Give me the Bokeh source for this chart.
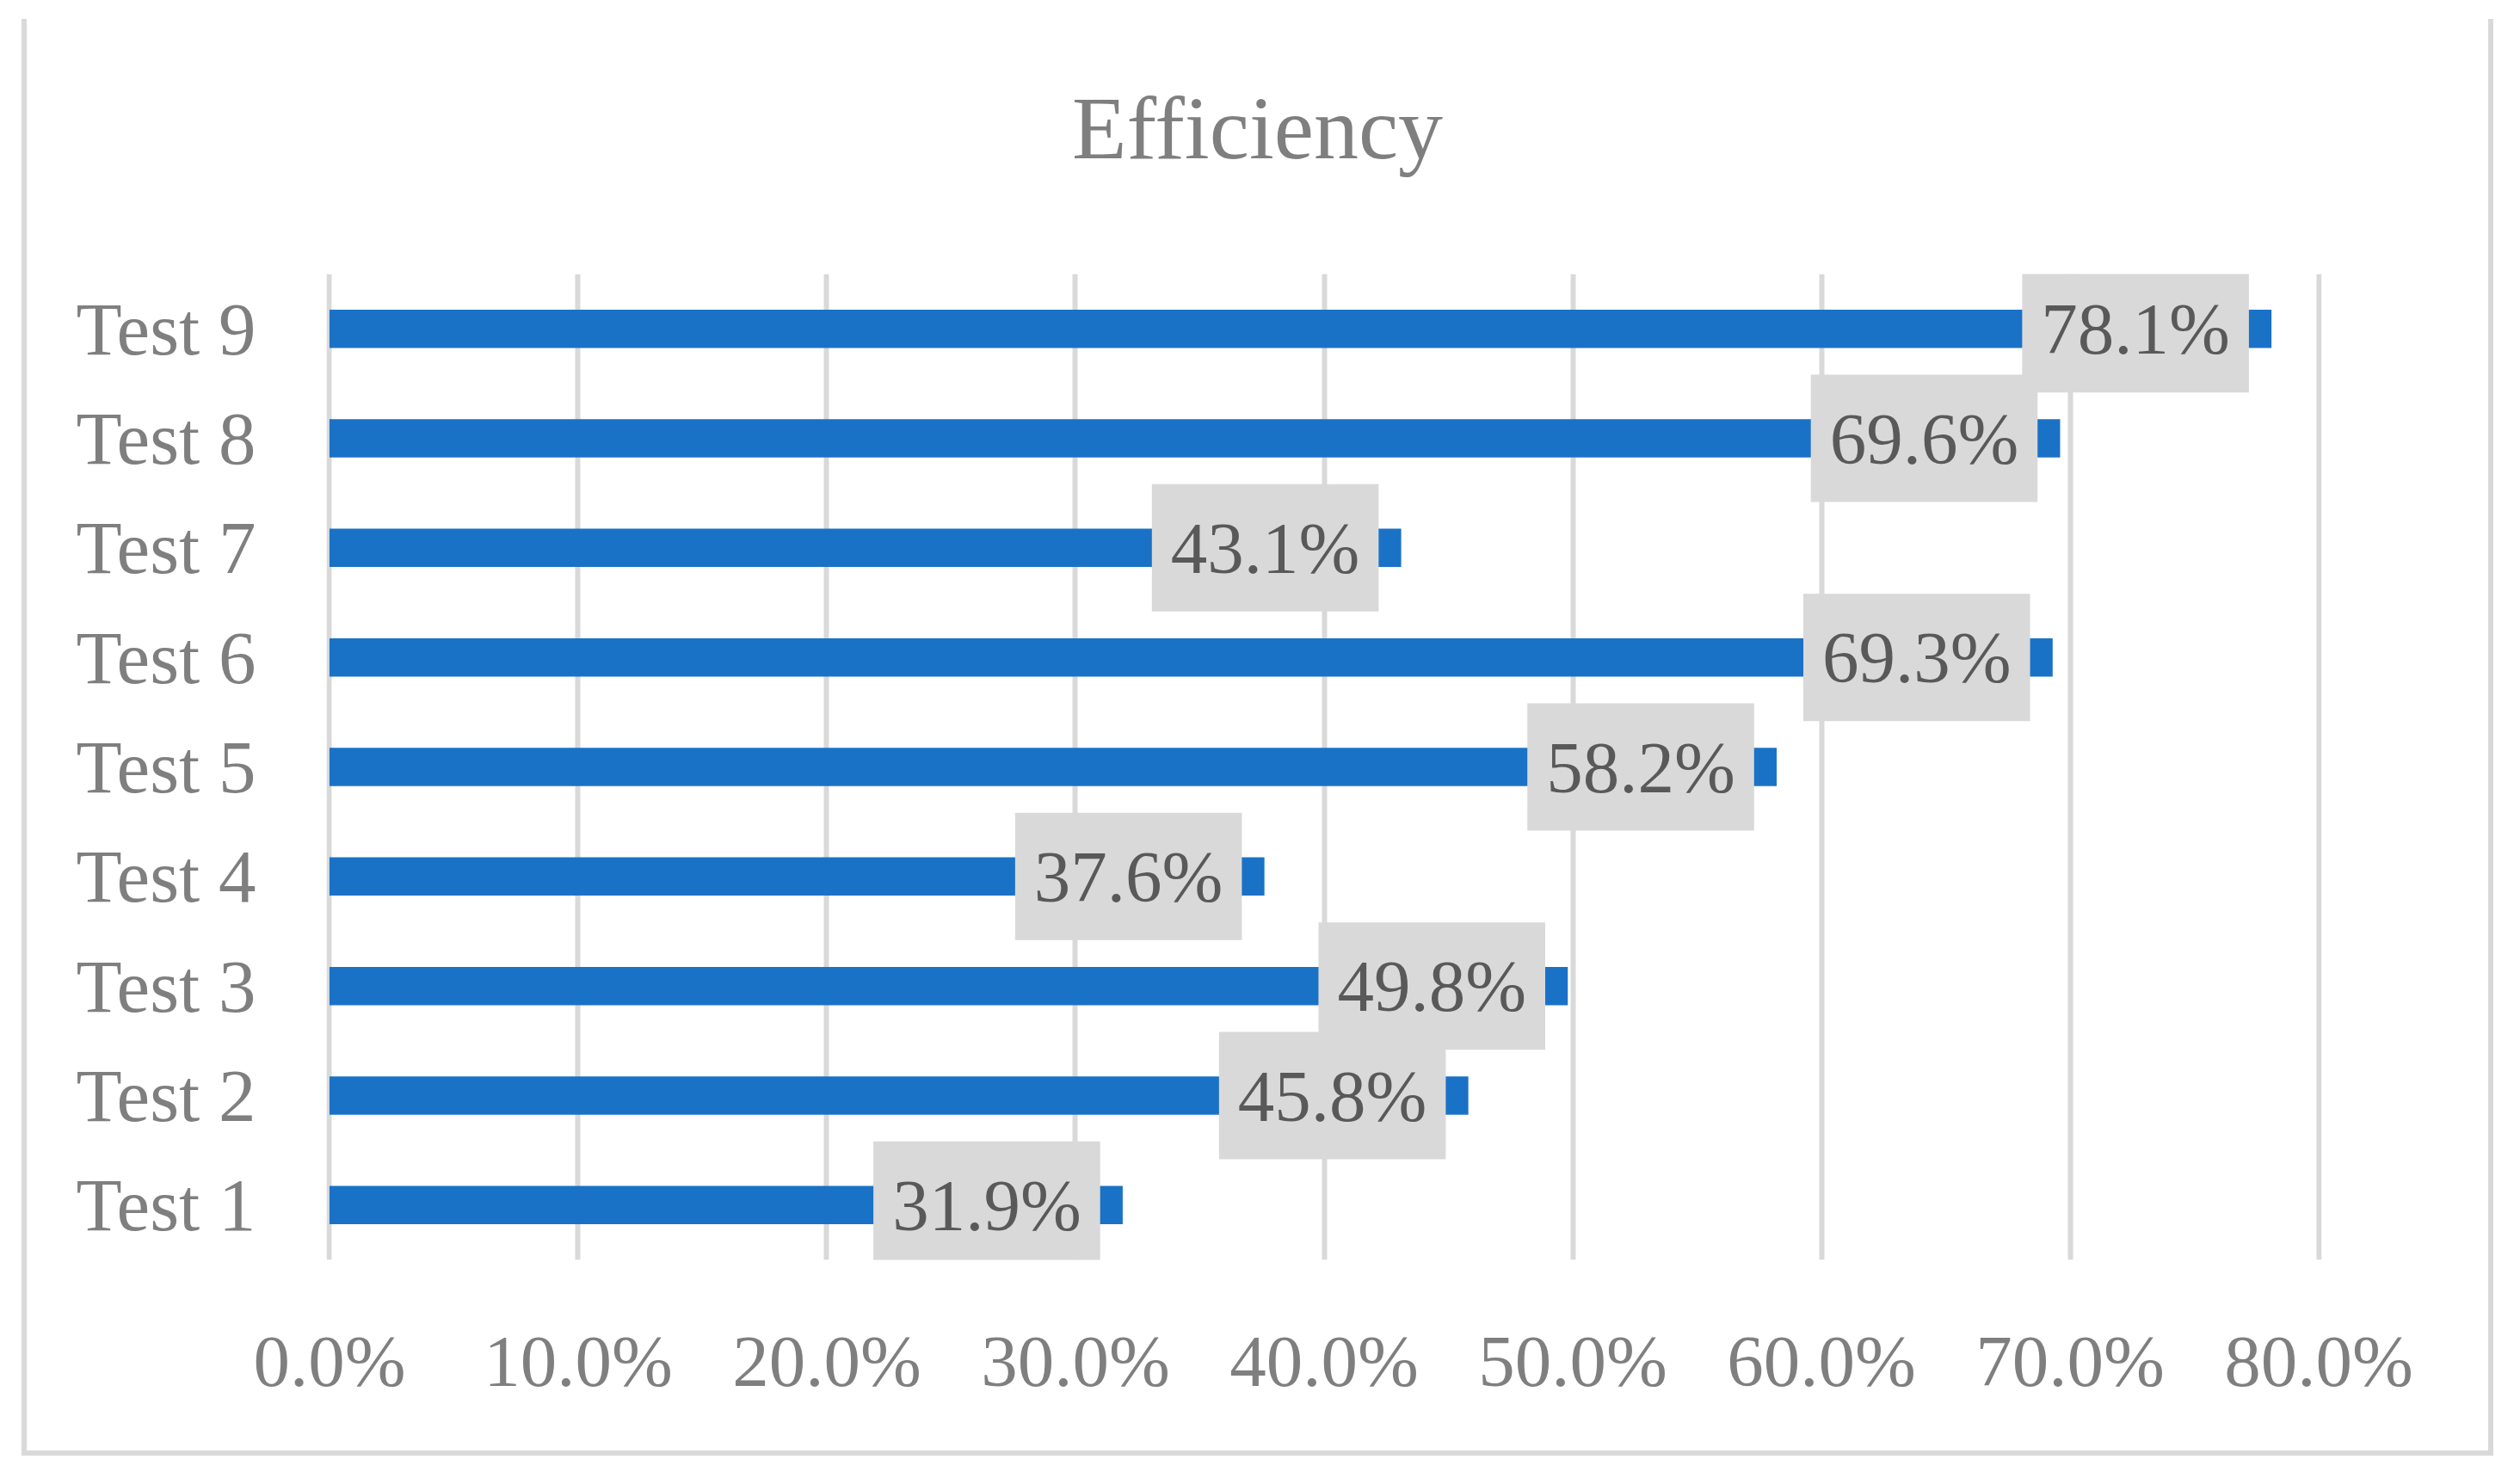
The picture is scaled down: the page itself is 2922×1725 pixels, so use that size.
from bokeh.plotting import figure
from bokeh.models import (ColumnDataSource, FactorRange, Range1d, FixedTicker,
                          NumeralTickFormatter, Label)
from bokeh.core.properties import value
from bokeh.embed import file_html
from bokeh.resources import INLINE

categories = ["Test 1", "Test 2", "Test 3", "Test 4", "Test 5",
              "Test 6", "Test 7", "Test 8", "Test 9"]
efficiency = [0.319, 0.458, 0.498, 0.376, 0.582, 0.693, 0.431, 0.696, 0.781]
label_texts = ["31.9%", "45.8%", "49.8%", "37.6%", "58.2%",
               "69.3%", "43.1%", "69.6%", "78.1%"]
x_ticks = [0.0, 0.1, 0.2, 0.3, 0.4, 0.5, 0.6, 0.7, 0.8]
title_text = "Efficiency"

FONT = "Liberation Serif"
BAR = "#1a72c7"
GRID = "#d9d9d9"
TICK_TXT = "#7f7f7f"
LBL_TXT = "#595959"

src = ColumnDataSource(dict(cat=categories, val=efficiency, txt=label_texts))

W, H = 2914, 1717
PAD = 0.0012  # tiny range padding so the 0% and 80% grid lines are drawn
p = figure(width=W, height=H, output_backend="svg", toolbar_location=None,
           y_range=FactorRange(factors=categories),
           x_range=Range1d(x_ticks[0] - PAD, x_ticks[-1] + PAD),
           min_border_left=379, min_border_right=216,
           min_border_top=318, min_border_bottom=253)
p.outline_line_color = None
p.background_fill_color = "white"
p.border_fill_color = None

# outer light-gray chart border (left, right, bottom; the top is cropped)
g = "linear-gradient(#d9d9d9,#d9d9d9)"
p.styles = {
    "background-color": "white",
    "background-image": f"{g}, {g}, {g}",
    "background-position": "25px 22px, 2892px 22px, 25px 1686px",
    "background-size": "6px 1670px, 6px 1670px, 2873px 6px",
    "background-repeat": "no-repeat",
}

p.hbar(y="cat", left=0, right="val", height=0.35, source=src,
       fill_color=BAR, line_color=None)

# axes
p.xaxis.ticker = FixedTicker(ticks=x_ticks)
p.xaxis.formatter = NumeralTickFormatter(format="0.0%")
for ax in (p.xaxis, p.yaxis):
    ax.axis_line_color = None
    ax.major_tick_line_color = None
    ax.minor_tick_line_color = None
    ax.major_tick_out = 0
    ax.major_tick_in = 0
    ax.major_label_text_font = FONT
    ax.major_label_text_color = TICK_TXT
p.xaxis.major_label_text_font_size = "85px"
p.yaxis.major_label_text_font_size = "87px"
p.xaxis.major_label_standoff = 70
p.yaxis.major_label_standoff = 82

p.xgrid.ticker = FixedTicker(ticks=x_ticks)
p.xgrid.grid_line_color = GRID
p.xgrid.grid_line_width = 6
p.ygrid.grid_line_color = None

# data labels
p.text(x="val", y="cat", text="txt", source=src,
       x_offset=-158, text_align="center", text_baseline="middle",
       text_font=value(FONT), text_font_size="85px", text_color=LBL_TXT,
       background_fill_color="#d9d9d9", padding=(22, 27))

# title (side-panel annotation so it is not clipped to the frame)
title = Label(x=1461, y=148, x_units="canvas", y_units="canvas",
              text=title_text, text_align="center", text_baseline="alphabetic",
              text_font=FONT, text_font_size="104px", text_color=TICK_TXT)
p.add_layout(title, "above")

open("out.html", "w").write(file_html(p, INLINE))
